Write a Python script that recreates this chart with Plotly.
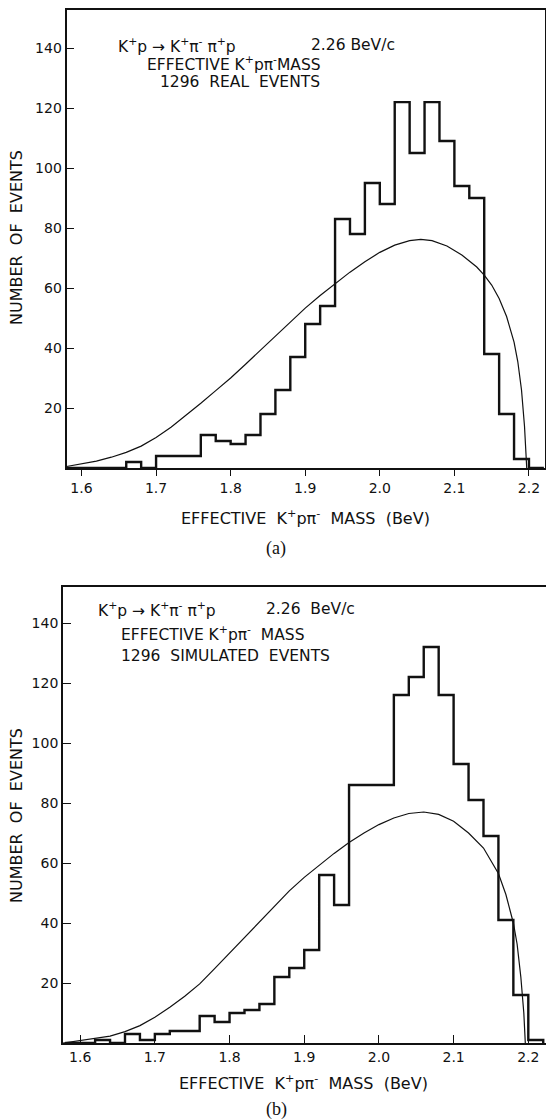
import plotly.graph_objects as go

W, H = 546, 1119

# ---------------- data ----------------
bin_start = 1.58
bin_width = 0.02

counts_real = [0, 0, 0, 0, 2, 0, 4, 4, 4, 11, 9, 8, 11, 18, 26, 37, 48, 54,
               83, 78, 95, 88, 122, 105, 122, 109, 94, 90, 38, 18, 3, 0]
counts_sim = [0, 0, 1, 0, 3, 1, 3, 4, 4, 9, 7, 10, 11, 13, 22, 25, 31, 56,
              46, 86, 86, 86, 116, 122, 132, 116, 93, 81, 69, 41, 16, 1]

curve_real_x = [1.580, 1.600, 1.620, 1.640, 1.660, 1.680, 1.700, 1.720, 1.740, 1.760,
                1.780, 1.800, 1.820, 1.840, 1.860, 1.880, 1.900, 1.920, 1.940, 1.960,
                1.980, 2.000, 2.020, 2.040, 2.055, 2.070, 2.090, 2.110, 2.130, 2.140,
                2.150, 2.160, 2.170, 2.180, 2.185, 2.190, 2.194, 2.196, 2.197]
curve_real_y = [0.5, 1.3, 2.3, 3.6, 5.2, 7.3, 10.2, 13.6, 17.5, 21.6,
                25.8, 30.0, 34.6, 39.3, 44.1, 48.8, 53.3, 57.5, 61.5, 65.3,
                68.8, 71.9, 74.3, 75.8, 76.2, 75.8, 74.0, 71.0, 67.0, 64.3,
                61.0, 56.5, 50.5, 42.0, 35.5, 26.0, 14.0, 5.0, 0.0]

curve_sim_x = [1.577, 1.600, 1.620, 1.640, 1.660, 1.680, 1.700, 1.720, 1.740, 1.760,
               1.780, 1.800, 1.820, 1.840, 1.860, 1.880, 1.900, 1.920, 1.940, 1.960,
               1.980, 2.000, 2.020, 2.040, 2.060, 2.080, 2.100, 2.120, 2.140, 2.160,
               2.170, 2.180, 2.185, 2.190, 2.194, 2.196]
curve_sim_y = [0.0, 0.8, 1.4, 2.3, 3.8, 5.8, 8.6, 11.9, 15.6, 19.7,
               24.8, 30.0, 35.3, 40.6, 45.8, 50.7, 55.2, 59.3, 63.2, 66.8,
               70.0, 72.8, 75.0, 76.5, 77.0, 76.2, 73.9, 70.0, 65.0, 56.5,
               49.5, 40.0, 33.0, 22.0, 10.0, 0.0]

x_tick_vals = [1.6, 1.7, 1.8, 1.9, 2.0, 2.1, 2.2]
x_tick_text = ["1.6", "1.7", "1.8", "1.9", "2.0", "2.1", "2.2"]
y_tick_vals = [20, 40, 60, 80, 100, 120, 140]
y_tick_text = ["20", "40", "60", "80", "100", "120", "140"]


def step_xy(counts):
    xs, ys = [], []
    for i, c in enumerate(counts):
        xs.append(round(bin_start + i * bin_width, 4))
        ys.append(c)
    xs.append(round(bin_start + len(counts) * bin_width, 4))
    ys.append(0)
    return xs, ys


def px_x(p):
    return p / W


def px_y(p):
    return 1 - p / H


FONT = "DejaVu Sans"
INK = "#111111"

fig = go.Figure()

hx, hy = step_xy(counts_real)
fig.add_trace(go.Scatter(x=hx, y=hy, mode="lines", line=dict(shape="hv", color=INK, width=2.4),
                         xaxis="x", yaxis="y", showlegend=False, hoverinfo="skip"))
fig.add_trace(go.Scatter(x=curve_real_x, y=curve_real_y, mode="lines",
                         line=dict(color=INK, width=1.2),
                         xaxis="x", yaxis="y", showlegend=False, hoverinfo="skip"))

hx2, hy2 = step_xy(counts_sim)
fig.add_trace(go.Scatter(x=hx2, y=hy2, mode="lines", line=dict(shape="hv", color=INK, width=2.4),
                         xaxis="x2", yaxis="y2", showlegend=False, hoverinfo="skip"))
fig.add_trace(go.Scatter(x=curve_sim_x, y=curve_sim_y, mode="lines",
                         line=dict(color=INK, width=1.2),
                         xaxis="x2", yaxis="y2", showlegend=False, hoverinfo="skip"))

axis_common = dict(showgrid=False, zeroline=False, showline=True, linecolor=INK, linewidth=1.8,
                   tickcolor=INK, tickwidth=1.4, tickfont=dict(family=FONT, size=14, color=INK))

fig.update_layout(
    width=W, height=H, margin=dict(l=0, r=0, t=0, b=0),
    paper_bgcolor="white", plot_bgcolor="white",
    xaxis=dict(domain=[px_x(66.5), px_x(545)], range=[1.5799, 2.2215], anchor="y",
               tickvals=x_tick_vals, ticktext=x_tick_text, ticks="outside", ticklen=6,
               mirror=True, **axis_common),
    yaxis=dict(domain=[px_y(468), px_y(10)], range=[0, 152.7], anchor="x",
               tickvals=y_tick_vals, ticktext=y_tick_text, ticks="inside", ticklen=8,
               mirror=True, **axis_common),
    xaxis2=dict(domain=[px_x(63), 1.0], range=[1.577, 2.2237], anchor="y2",
                tickvals=x_tick_vals, ticktext=x_tick_text, ticks="inside", ticklen=8,
                mirror=True, **axis_common),
    yaxis2=dict(domain=[px_y(1043), px_y(587)], range=[0, 152], anchor="x2",
                tickvals=y_tick_vals, ticktext=y_tick_text, ticks="inside", ticklen=8,
                mirror=False, **axis_common),
)


def ann(text, x, y, size=15.5, xanchor="left", family=FONT, angle=0):
    fig.add_annotation(text=text, x=px_x(x), y=px_y(y), xref="paper", yref="paper",
                       xanchor=xanchor, yanchor="middle", showarrow=False, textangle=angle,
                       font=dict(family=family, size=size, color=INK))


# top panel texts
ann("K<sup>+</sup>p → K<sup>+</sup>π<sup>-</sup> π<sup>+</sup>p", 116, 45)
ann("2.26 BeV/c", 309, 45)
ann("EFFECTIVE K<sup>+</sup>pπ<sup>-</sup>MASS", 145, 63)
ann("1296  REAL  EVENTS", 158, 82)
ann("NUMBER  OF  EVENTS", 16, 238, size=16, xanchor="center", angle=-90)
ann("EFFECTIVE  K<sup>+</sup>pπ<sup>-</sup>  MASS  (BeV)", 305, 517, size=16, xanchor="center")
ann("(a)", 276, 548, size=18, xanchor="center", family="Liberation Serif")

# bottom panel texts
ann("K<sup>+</sup>p → K<sup>+</sup>π<sup>-</sup> π<sup>+</sup>p", 96, 609)
ann("2.26  BeV/c", 264, 609)
ann("EFFECTIVE K<sup>+</sup>pπ<sup>-</sup>  MASS", 119, 633)
ann("1296  SIMULATED  EVENTS", 119, 656)
ann("NUMBER  OF  EVENTS", 16, 816, size=16, xanchor="center", angle=-90)
ann("EFFECTIVE  K<sup>+</sup>pπ<sup>-</sup>  MASS  (BeV)", 303, 1082, size=16, xanchor="center")
ann("(b)", 276, 1109, size=18, xanchor="center", family="Liberation Serif")

fig.write_html("out.html")
